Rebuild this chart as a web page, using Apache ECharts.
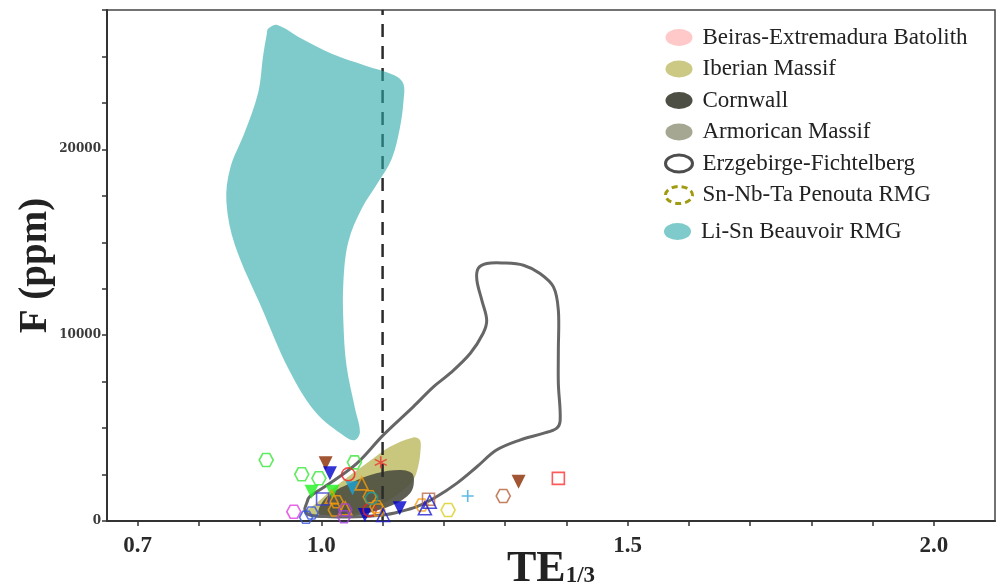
<!DOCTYPE html>
<html>
<head>
<meta charset="utf-8">
<script src="https://cdn.jsdelivr.net/npm/echarts@6/dist/echarts.min.js"></script>
<style>
html,body{margin:0;padding:0;background:#fff;}
#chart{width:1005px;height:585px;}
</style>
</head>
<body>
<div id="chart"></div>
<script>
// ---- axis ticks / labels ----
const xTickValues = [0.7,0.8,0.9,1.0,1.1,1.2,1.3,1.4,1.5,1.6,1.7,1.8,1.9,2.0];
const xLabelValues = [0.7,1.0,1.5,2.0];
const yLabelValues = [0,10000,20000];
const dividerTE = 1.1;

// ---- field outlines [TE1/3, F ppm] ----
const beauvoirField = [[0.927,26703],[0.968,25950],[1.017,25144],[1.071,24515],[1.120,23977],[1.134,23531],[1.134,22542],[1.128,21112],[1.115,19499],[1.093,18241],[1.066,16811],[1.044,15015],[1.036,12865],[1.036,10714],[1.041,8387],[1.055,6059],[1.063,4801],[1.055,4355],[1.039,4532],[0.990,5876],[0.946,8209],[0.903,11435],[0.859,14838],[0.845,17166],[0.851,18961],[0.875,20929],[0.897,23079],[0.905,25052],[0.911,26219],[0.913,26488]];
const erzgebirgeField = [[0.981,1306],[1.014,2027],[1.058,3102],[1.101,4623],[1.150,6145],[1.183,7220],[1.210,7940],[1.243,9015],[1.264,10091],[1.270,10806],[1.262,11881],[1.254,12956],[1.256,13585],[1.270,13854],[1.297,13886],[1.330,13763],[1.357,13316],[1.379,12596],[1.387,11343],[1.387,9193],[1.387,7403],[1.390,5430],[1.384,4984],[1.362,4715],[1.324,4355],[1.286,3817],[1.254,2919],[1.221,2027],[1.188,1306],[1.156,769],[1.128,500],[1.101,323],[1.058,231],[1.014,231],[0.981,323],[0.973,591],[0.976,952]];
const iberianField = [[0.992,952],[1.030,2027],[1.074,3102],[1.112,3994],[1.150,4500],[1.161,4355],[1.162,3817],[1.158,2919],[1.150,2204],[1.134,1667],[1.101,952],[1.058,414],[1.014,231],[0.987,231],[0.973,414]];
const cornwallField = [[1.009,1306],[1.047,2027],[1.090,2564],[1.128,2742],[1.148,2564],[1.151,2027],[1.145,1489],[1.123,952],[1.085,500],[1.047,231],[1.014,231],[0.995,414]];
const armoricanField = [[1.020,380],[1.034,320],[1.044,600],[1.040,1000],[1.026,1060],[1.016,720]];
const beirasField = [];
const penoutaField = [];

// ---- sample points [TE1/3, F ppm] ----
const greenHexPts = [[0.910,3279],[0.968,2511],[0.996,2296],[1.054,3156]];
const brownDownTriPts = [[1.007,3102],[1.322,2113]];
const blueDownTriPts = [[1.014,2564],[1.071,323],[1.128,683]];
const redCirclePts = [[1.044,2511],[1.079,591]];
const redStarPts = [[1.097,3156]];
const greenDownTriPts = [[0.984,1575],[1.018,1575]];
const cyanDownTriPts = [[1.051,1758]];
const orangeUpTriPts = [[1.066,2027],[1.017,1306],[1.039,683]];
const orangeHexPts = [[1.025,1038],[1.079,1306],[1.090,769],[1.022,591],[1.164,860],[1.093,591]];
const tealCirclePts = [[1.082,1220]];
const blueSquarePts = [[1.002,1183]];
const brownSquarePts = [[1.175,1167]];
const redSquarePts = [[1.387,2296]];
const magentaHexPts = [[0.955,500]];
const blueHexPts = [[0.984,430],[0.975,200]];
const purpleHexPts = [[1.039,591],[1.037,231]];
const blueUpTriPts = [[1.101,323],[1.169,683],[1.177,1038]];
const yellowHexPts = [[1.207,591]];
const cyanPlusPts = [[1.239,1344]];
const siennaHexPts = [[1.297,1344]];

const HEX = 'path://M5,0L15,0L20,8.66L15,17.32L5,17.32L0,8.66Z';
const STAR = 'path://M10,0L10,20M1.3,5L18.7,15M1.3,15L18.7,5';
const PLUS = 'path://M10,0L10,20M0,10L20,10';
const ELLIPSE = 'path://M0,8.5A13.5,8.5 0 1 1 27,8.5A13.5,8.5 0 1 1 0,8.5Z';
const SERIF = '"Liberation Serif", "DejaVu Serif", serif';

function fieldSeries(name, pts, style, z) {
  return {
    type: 'custom', name: name, data: pts, z: z, silent: true,
    renderItem: function (params, api) {
      if (params.dataIndex !== 0) return null;
      const coords = pts.map(p => api.coord(p));
      return { type: 'polygon', shape: { points: coords, smooth: 0.35 }, style: style };
    }
  };
}
function pointSeries(name, pts, symbol, color, filled, size, rotate) {
  return {
    type: 'scatter', name: name, data: pts, symbol: symbol, symbolSize: size || 13,
    symbolRotate: rotate || 0, z: 10,
    itemStyle: filled ? { color: color } : { color: 'transparent', borderColor: color, borderWidth: 1.6 }
  };
}

const legendText = { fontFamily: SERIF, fontSize: 23, color: '#222', padding: [0, 0, 0, 5] };
const chart = echarts.init(document.getElementById('chart'));
const option = {
  backgroundColor: '#fff',
  animation: false,
  grid: { left: 107, right: 10, top: 10, bottom: 64, show: true, borderColor: '#444', borderWidth: 1.5, outerBoundsMode: 'none' },
  legend: [{
    orient: 'vertical', left: 664, top: 26, padding: 0, itemWidth: 27, itemHeight: 17, itemGap: 8.5,
    selectedMode: false,
    textStyle: legendText,
    data: [
      { name: 'Beiras-Extremadura Batolith', icon: ELLIPSE, itemStyle: { color: '#FFC9C9', borderWidth: 0 } },
      { name: 'Iberian Massif', icon: ELLIPSE, itemStyle: { color: '#CBC984', borderWidth: 0 } },
      { name: 'Cornwall', icon: ELLIPSE, itemStyle: { color: '#4E4F44', borderWidth: 0 } },
      { name: 'Armorican Massif', icon: ELLIPSE, itemStyle: { color: '#A6A792', borderWidth: 0 } },
      { name: 'Erzgebirge-Fichtelberg', icon: ELLIPSE, itemStyle: { color: '#fff', borderColor: '#4d4d4d', borderWidth: 3 } },
      { name: 'Sn-Nb-Ta Penouta RMG', icon: ELLIPSE, itemStyle: { color: '#fff', borderColor: '#A19B14', borderWidth: 3, borderType: [6, 4] } }
    ]
  }, {
    orient: 'vertical', left: 664, top: 220, padding: 0, itemWidth: 27, itemHeight: 17,
    selectedMode: false,
    textStyle: legendText,
    data: [
      { name: 'Li-Sn Beauvoir RMG', icon: ELLIPSE, itemStyle: { color: '#7FCBCB', borderWidth: 0 } }
    ]
  }],
  xAxis: {
    type: 'value', min: 0.65, max: 2.1,
    name: '{a|TE}{b|1/3}', nameLocation: 'middle', nameGap: 27, nameMoveOverlap: false,
    nameTextStyle: {
      rich: {
        a: { fontFamily: SERIF, fontSize: 44, fontWeight: 'bold', color: '#222', padding: [0, 0, 12, 0] },
        b: { fontFamily: SERIF, fontSize: 23, fontWeight: 'bold', color: '#222' }
      }
    },
    splitLine: { show: false },
    axisLine: { lineStyle: { color: '#333', width: 2 } },
    axisTick: { show: true, customValues: xTickValues, length: 5, lineStyle: { color: '#333', width: 1.5 } },
    axisLabel: { customValues: xLabelValues, formatter: v => v.toFixed(1), fontFamily: SERIF, fontSize: 23, fontWeight: 'bold', color: '#2a2a2a', margin: 14 }
  },
  yAxis: {
    type: 'value', min: 0, max: 27500, interval: 2500,
    name: 'F (ppm)', nameLocation: 'middle', nameGap: 52, nameMoveOverlap: false,
    nameTextStyle: { fontFamily: SERIF, fontSize: 39, fontWeight: 'bold', color: '#222' },
    splitLine: { show: false },
    axisLine: { lineStyle: { color: '#333', width: 2 } },
    axisTick: { length: 5, lineStyle: { color: '#333', width: 1.5 } },
    axisLabel: { formatter: v => (yLabelValues.indexOf(v) >= 0 ? String(v) : ''), fontFamily: '"DejaVu Serif", serif', fontSize: 12, fontWeight: 'bold', color: '#3a3a3a', margin: 6 }
  },
  series: [
    fieldSeries('Beiras-Extremadura Batolith', beirasField, { fill: '#FFC9C9' }, 1),
    fieldSeries('Iberian Massif', iberianField, { fill: '#C9C77E' }, 2),
    fieldSeries('Armorican Massif', armoricanField, { fill: '#8E8E86' }, 3),
    fieldSeries('Cornwall', cornwallField, { fill: 'rgba(78,79,64,0.9)' }, 4),
    fieldSeries('Sn-Nb-Ta Penouta RMG', penoutaField, { fill: 'none', stroke: '#A19B14', lineWidth: 2, lineDash: [6, 4] }, 4),
    {
      type: 'line', name: 'TE divider', z: 5, silent: true, symbol: 'none',
      data: [[dividerTE, 0], [dividerTE, 27500]],
      lineStyle: { color: '#2b2b2b', width: 2.5, type: [13, 9] }
    },
    fieldSeries('Li-Sn Beauvoir RMG', beauvoirField, { fill: 'rgba(42,168,168,0.6)' }, 6),
    fieldSeries('Erzgebirge-Fichtelberg', erzgebirgeField, { fill: 'none', stroke: '#666', lineWidth: 3 }, 7),
    pointSeries('s1', greenHexPts, HEX, '#3AE63A', false, [14, 13]),
    pointSeries('s2', brownDownTriPts, 'triangle', '#8B2A00', true, 14, 180),
    pointSeries('s3', blueDownTriPts, 'triangle', '#0000CC', true, 14, 180),
    pointSeries('s4', redCirclePts, 'circle', '#F02020', false, 13),
    pointSeries('s5', redStarPts, STAR, '#F03030', false, 12),
    pointSeries('s6', greenDownTriPts, 'triangle', '#1EF01E', true, 14, 180),
    pointSeries('s7', cyanDownTriPts, 'triangle', '#1AA3D6', true, 14, 180),
    pointSeries('s8', orangeUpTriPts, 'triangle', '#F59A0A', false, 13),
    pointSeries('s9', orangeHexPts, HEX, '#F59A0A', false, [13, 12]),
    pointSeries('s10', tealCirclePts, 'circle', '#1E9E9E', false, 12),
    pointSeries('s11', blueSquarePts, 'rect', '#3A3AD0', false, 12),
    pointSeries('s12', brownSquarePts, 'rect', '#B86A4A', false, 12),
    pointSeries('s13', redSquarePts, 'rect', '#FF3030', false, 12),
    pointSeries('s14', magentaHexPts, HEX, '#E040E0', false, [14, 13]),
    pointSeries('s15', blueHexPts, HEX, '#3355DD', false, [13, 12]),
    pointSeries('s16', purpleHexPts, HEX, '#A040E0', false, [13, 12]),
    pointSeries('s17', blueUpTriPts, 'triangle', '#2020D0', false, 13),
    pointSeries('s18', yellowHexPts, HEX, '#D8D020', false, [14, 13]),
    pointSeries('s19', cyanPlusPts, PLUS, '#33AADD', false, 12),
    pointSeries('s20', siennaHexPts, HEX, '#B5603A', false, [14, 13])
  ]
};
chart.setOption(option);
</script>
</body>
</html>
